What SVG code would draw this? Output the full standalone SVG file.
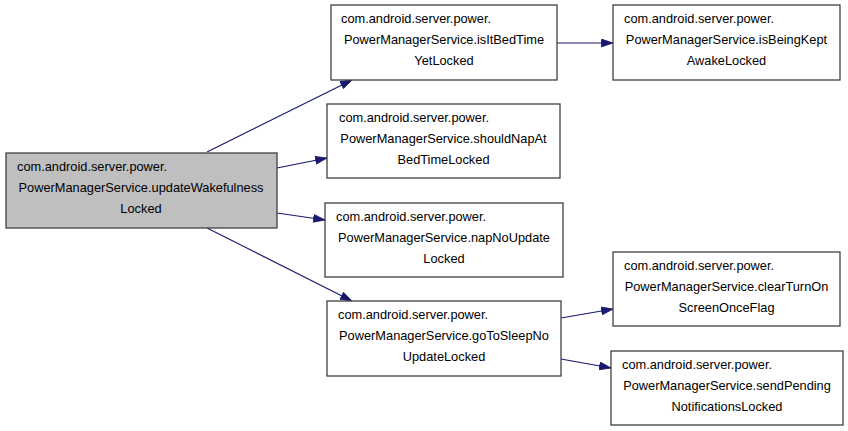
<svg xmlns="http://www.w3.org/2000/svg" width="848" height="431" viewBox="0 0 848 431">
<defs>
<style>
.box{fill:#ffffff;stroke:#404040;stroke-width:1.3}
.root{fill:#bfbfbf;stroke:#404040;stroke-width:1.3}
text{font-family:"Liberation Sans",Arial,sans-serif;font-size:12.8px;fill:#000000}
.c{text-anchor:middle}
.edge{stroke:#191970;stroke-width:1.2;fill:none}
</style>
<marker id="arr" markerUnits="userSpaceOnUse" markerWidth="13" markerHeight="9" refX="12" refY="4.5" orient="auto">
<path d="M0.5,0.6 L12,4.5 L0.5,8.4 z" fill="#191970" stroke="#191970" stroke-width="0.8"/>
</marker>
</defs>
<rect width="848" height="431" fill="#ffffff"/>
<g id="connectors">
<line class="edge" x1="207" y1="152" x2="352" y2="80" marker-end="url(#arr)"/>
<line class="edge" x1="277" y1="168" x2="327" y2="158" marker-end="url(#arr)"/>
<line class="edge" x1="277" y1="213" x2="325" y2="220" marker-end="url(#arr)"/>
<line class="edge" x1="207" y1="228" x2="352" y2="301" marker-end="url(#arr)"/>
<line class="edge" x1="557" y1="43" x2="613" y2="43" marker-end="url(#arr)"/>
<line class="edge" x1="561" y1="318" x2="613" y2="309" marker-end="url(#arr)"/>
<line class="edge" x1="561" y1="359" x2="611" y2="368" marker-end="url(#arr)"/>
</g>
<g id="updateWakefulnessLocked">
<rect class="root" x="6" y="153" width="271" height="75"/>
<text x="17" y="171">com.android.server.power.</text>
<text class="c" x="141" y="192">PowerManagerService.updateWakefulness</text>
<text class="c" x="141" y="213">Locked</text>
</g>
<g id="isItBedTimeYetLocked">
<rect class="box" x="331" y="5" width="226" height="75"/>
<text x="341" y="23">com.android.server.power.</text>
<text class="c" x="444" y="44">PowerManagerService.isItBedTime</text>
<text class="c" x="444" y="65">YetLocked</text>
</g>
<g id="shouldNapAtBedTimeLocked">
<rect class="box" x="327" y="104" width="233" height="74"/>
<text x="339" y="122">com.android.server.power.</text>
<text class="c" x="443.5" y="143">PowerManagerService.shouldNapAt</text>
<text class="c" x="443.5" y="164">BedTimeLocked</text>
</g>
<g id="napNoUpdateLocked">
<rect class="box" x="325" y="203" width="238" height="74"/>
<text x="336" y="221">com.android.server.power.</text>
<text class="c" x="444" y="242">PowerManagerService.napNoUpdate</text>
<text class="c" x="444" y="263">Locked</text>
</g>
<g id="goToSleepNoUpdateLocked">
<rect class="box" x="327" y="301" width="234" height="75"/>
<text x="338" y="319">com.android.server.power.</text>
<text class="c" x="444" y="340">PowerManagerService.goToSleepNo</text>
<text class="c" x="444" y="361">UpdateLocked</text>
</g>
<g id="isBeingKeptAwakeLocked">
<rect class="box" x="613" y="5" width="227" height="75"/>
<text x="624" y="23">com.android.server.power.</text>
<text class="c" x="726.5" y="44">PowerManagerService.isBeingKept</text>
<text class="c" x="726.5" y="65">AwakeLocked</text>
</g>
<g id="clearTurnOnScreenOnceFlag">
<rect class="box" x="613" y="252" width="227" height="74"/>
<text x="624" y="270">com.android.server.power.</text>
<text class="c" x="726.5" y="291">PowerManagerService.clearTurnOn</text>
<text class="c" x="726.5" y="312">ScreenOnceFlag</text>
</g>
<g id="sendPendingNotificationsLocked">
<rect class="box" x="611" y="351" width="232" height="74"/>
<text x="622" y="369">com.android.server.power.</text>
<text class="c" x="727" y="390">PowerManagerService.sendPending</text>
<text class="c" x="727" y="411">NotificationsLocked</text>
</g>
</svg>
